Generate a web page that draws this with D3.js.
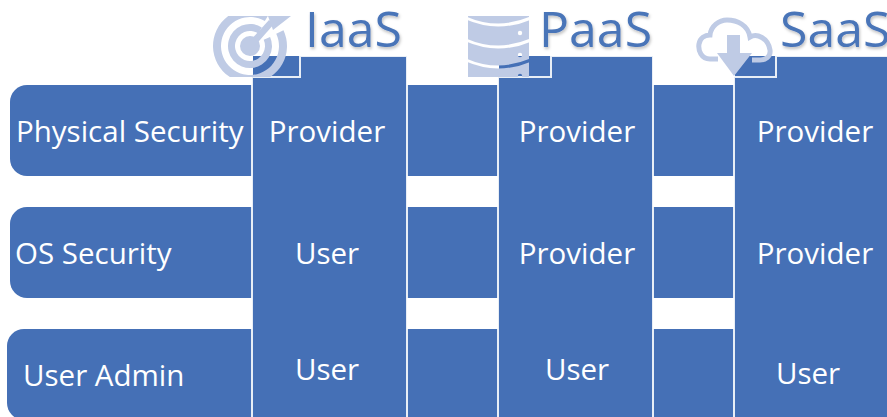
<!DOCTYPE html>
<html>
<head>
<meta charset="utf-8">
<script src="https://cdn.jsdelivr.net/npm/d3@7"></script>
<style>
  html, body { margin: 0; padding: 0; background: #fff; overflow: hidden; }
  text { font-family: "Open Sans", "Noto Sans", sans-serif; }
</style>
</head>
<body>
<svg id="chart" width="887" height="417"></svg>
<script>
const rowLabels = ['Physical Security', 'OS Security', 'User Admin']
const modelNames = ['IaaS', 'PaaS', 'SaaS']
const iaasCells = ['Provider', 'User', 'User']
const paasCells = ['Provider', 'Provider', 'User']
const saasCells = ['Provider', 'Provider', 'User']

const BLUE = '#4570b6'
const TITLE_BLUE = '#4a74b8'
const ICON_BLUE = '#bfcbe5'

const svg = d3.select('#chart')

const rowTop = d3.scaleOrdinal().domain(rowLabels).range([85, 207, 329])
const rowLeft = d3.scaleOrdinal().domain(rowLabels).range([10, 10, 7])
const rowLabelX = d3.scaleOrdinal().domain(rowLabels).range([16, 15, 23])
const colLeft = d3.scaleOrdinal().domain(modelNames).range([252, 498, 734])
const colRight = d3.scaleOrdinal().domain(modelNames).range([407, 653, 888])
const tabRight = d3.scaleOrdinal().domain(modelNames).range([300, 551, 776])
const colTextX = d3.scaleOrdinal().domain(modelNames).range([327, 577, 815])
const titleX = d3.scaleOrdinal().domain(modelNames).range([305, 539, 780])

const ROW_H = 91
const cellColumns = [iaasCells, paasCells, saasCells]
const cellY = [[132, 254, 370], [132, 254, 370], [132, 254, 374]]

const defs = svg.append('defs')
defs.append('filter').attr('id', 'titleShadow')
  .attr('filterUnits', 'userSpaceOnUse')
  .attr('x', 280).attr('y', 0).attr('width', 640).attr('height', 70)
  .append('feDropShadow')
  .attr('dx', 1).attr('dy', 2).attr('stdDeviation', 1.5)
  .attr('flood-color', '#000').attr('flood-opacity', 0.25)

// row bands, rounded on the left only
const rowPath = (d) => {
  const x = rowLeft(d)
  const y = rowTop(d)
  const r = 17
  const p = d3.path()
  p.moveTo(x + r, y)
  p.lineTo(887, y)
  p.lineTo(887, y + ROW_H)
  p.lineTo(x + r, y + ROW_H)
  p.arcTo(x, y + ROW_H, x, y + ROW_H - r, r)
  p.lineTo(x, y + r)
  p.arcTo(x, y, x + r, y, r)
  p.closePath()
  return p.toString()
}

svg.selectAll('.row')
  .data(rowLabels)
  .enter()
  .append('path')
  .attr('class', 'row')
  .attr('fill', BLUE)
  .attr('d', rowPath)

// columns: body with a step, the tab fills the step
svg.selectAll('.tab')
  .data(modelNames)
  .enter()
  .append('rect')
  .attr('class', 'tab')
  .attr('fill', BLUE)
  .attr('x', (d) => colLeft(d) + 1)
  .attr('y', 56)
  .attr('width', (d) => tabRight(d) - colLeft(d) - 1)
  .attr('height', 21)

svg.selectAll('.column')
  .data(modelNames)
  .enter()
  .append('path')
  .attr('class', 'column')
  .attr('fill', BLUE)
  .attr('stroke', '#fff')
  .attr('stroke-opacity', 0.88)
  .attr('stroke-width', 2)
  .attr('d', (d) => {
    const p = d3.path()
    p.moveTo(colLeft(d), 418)
    p.lineTo(colLeft(d), 77)
    p.lineTo(tabRight(d), 77)
    p.lineTo(tabRight(d), 56)
    p.lineTo(colRight(d), 56)
    p.lineTo(colRight(d), 418)
    return p.toString()
  })

// icons lie over the tabs, their gaps let the tab show through
defs.append('clipPath').attr('id', 'targetClip')
  .append('rect').attr('x', 205).attr('y', 16).attr('width', 90).attr('height', 61)

const ring = (inner, outer, start, end) => d3.arc()
  .innerRadius(inner).outerRadius(outer)
  .startAngle(start).endAngle(end)()

const iaasIcon = svg.append('g')
  .attr('fill', ICON_BLUE)
  .attr('clip-path', 'url(#targetClip)')
const target = iaasIcon.append('g').attr('transform', 'translate(250,46)')
target.append('path').attr('d', ring(29, 37, 1.13, 6.82))
target.append('path').attr('d', ring(15, 22, 1.15, 6.85))
target.append('circle').attr('r', 10)
target.append('path')
  .attr('d', 'M-2,-3 L19,-26 L24,-22 L3,2 Z')
target.append('path')
  .attr('d', 'M18,-30 L41,-30 L23,-16 Z')

const dbMask = defs.append('mask').attr('id', 'dbMask')
  .attr('maskUnits', 'userSpaceOnUse')
  .attr('x', 460).attr('y', 10).attr('width', 80).attr('height', 75)
dbMask.append('rect')
  .attr('x', 460).attr('y', 10).attr('width', 80).attr('height', 75)
  .attr('fill', '#fff')
dbMask.selectAll('.band')
  .data([18, 40, 60])
  .enter()
  .append('path')
  .attr('fill', 'none')
  .attr('stroke', '#000')
  .attr('stroke-width', 3)
  .attr('d', (d) => `M466,${d} Q498,${d + 14} 531,${d}`)
dbMask.selectAll('.led')
  .data([33, 55, 76])
  .enter()
  .append('circle')
  .attr('fill', '#000')
  .attr('cx', 520)
  .attr('cy', (d) => d)
  .attr('r', 2.2)

svg.append('rect')
  .attr('fill', ICON_BLUE)
  .attr('mask', 'url(#dbMask)')
  .attr('x', 468)
  .attr('y', 16)
  .attr('width', 61)
  .attr('height', 61)

const saasIcon = svg.append('g')
saasIcon.append('path')
  .attr('fill', 'none')
  .attr('stroke', ICON_BLUE)
  .attr('stroke-width', 5)
  .attr('d', 'M718,59 L710,59 C701,59 698,50 699,44 C700,38 705,35 710,35 C711,26 719,20 727,20 C737,20 748,25 750,37 C757,33 768,38 770,50 C771,57 765,60 760,60 L752,60')
saasIcon.append('path')
  .attr('fill', ICON_BLUE)
  .attr('d', 'M727,35 L740,35 L740,53 L752,53 L734,76 L717,53 L727,53 Z')

svg.selectAll('.title')
  .data(modelNames)
  .enter()
  .append('text')
  .attr('class', 'title')
  .attr('x', (d) => titleX(d))
  .attr('y', 47)
  .attr('fill', TITLE_BLUE)
  .attr('font-size', 50)
  .attr('filter', 'url(#titleShadow)')
  .text((d) => d)

svg.selectAll('.rowLabel')
  .data(rowLabels)
  .enter()
  .append('text')
  .attr('class', 'rowLabel')
  .attr('x', (d) => rowLabelX(d))
  .attr('y', (d) => rowTop(d) + 57)
  .attr('fill', '#fff')
  .attr('font-size', 29.5)
  .text((d) => d)

modelNames.forEach((name, i) => {
  svg.selectAll(`.cell${i}`)
    .data(cellColumns[i])
    .enter()
    .append('text')
    .attr('class', `cell${i}`)
    .attr('x', (d) => (name === 'SaaS' && d === 'User' ? 808 : colTextX(name)))
    .attr('y', (d, j) => cellY[i][j] + 10)
    .attr('fill', '#fff')
    .attr('font-size', 29.5)
    .attr('text-anchor', 'middle')
    .text((d) => d)
})
</script>
</body>
</html>
